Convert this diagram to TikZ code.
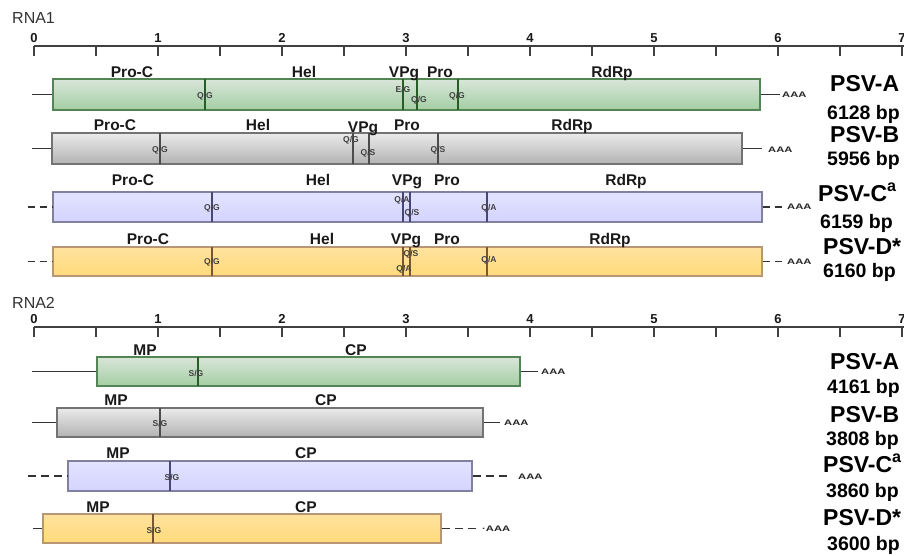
\documentclass[tikz,border=0pt]{standalone}
\usepackage{fontspec}
\setmainfont{Liberation Sans}
\begin{document}
\begin{tikzpicture}[x=1pt,y=-1pt,
  lab/.style={font=\bfseries\fontsize{15.5}{16}\selectfont, anchor=base, inner sep=0pt, text=black!90},
  num/.style={font=\bfseries\fontsize{13}{13}\selectfont, anchor=base, inner sep=0pt, text=black!90},
  rna/.style={font=\fontsize{16}{16}\selectfont, anchor=base west, inner sep=0pt, text=black!80},
  cs/.style={font=\bfseries\fontsize{8.5}{9}\selectfont, inner sep=0pt, text=black!75},
  aaa/.style={font=\bfseries\fontsize{8}{8}\selectfont, inner sep=0pt, anchor=west, text=black!85},
  vname/.style={font=\bfseries\fontsize{23}{24}\selectfont, anchor=base west, inner sep=0pt},
  vlen/.style={font=\bfseries\fontsize{19.5}{20}\selectfont, anchor=base west, inner sep=0pt},
  ruler/.style={line width=1.8pt, draw=black!75},
  lead/.style={line width=1.8pt, draw=black!80},
  dlead/.style={lead, dash pattern=on 7pt off 5pt},
  dlead2/.style={lead, dash pattern=on 8pt off 5pt},
  box/.style={draw, line width=1.3pt, inner sep=0pt},
  gbox/.style={box, draw=black!45!green!35!gray, top color=green!20!gray!25!white, bottom color=green!30!gray!55!white},
  ybox/.style={box, draw=black!55, top color=black!8, bottom color=black!30},
  lbox/.style={box, draw=blue!25!black!50, top color=blue!11!white, bottom color=blue!17!white},
  obox/.style={box, draw=orange!50!black!55, top color=yellow!40!orange!38!white, bottom color=yellow!45!orange!52!white},
  cutg/.style={line width=2.2pt, draw=green!25!black!85},
  cuty/.style={line width=2.2pt, draw=black!70},
  cutl/.style={line width=2.2pt, draw=blue!25!black!72},
  cuto/.style={line width=2.2pt, draw=orange!35!black!80},
]
\useasboundingbox (0,0) rectangle (904,555);
\clip (0,0) rectangle (904,555);
\fill[white] (0,0) rectangle (904,555);

% ---------------- RNA1 ruler
\node[rna] (rna1) at (12,23.3) {RNA1};
\draw[ruler] (34,46) -- (906,46);
\foreach \i in {0,...,14} \draw[ruler] ({34+62*\i},46) -- ++(0,10);
\foreach \i in {0,...,7} \node[num] (na\i) at ({34+124*\i},42.7) {\i};

% ---------------- RNA1 PSV-A
\node[gbox, minimum width=707pt, minimum height=31pt] (b1a) at (406.5,94.5) {};
\foreach \x in {205,403,417,458} \draw[cutg] (\x,79) -- (\x,110);
\coordinate (l1a) at (32,94.5); \coordinate (t1a) at (780,94.5);
\draw[lead] (l1a) -- (b1a.west);
\draw[lead] (b1a.east) -- (t1a);
\node[aaa] (p1a) at (782,94.5) {\scalebox{1.4}[1]{AAA}};
\node[lab] (a1) at (132,77) {Pro-C};
\node[lab] (a2) at (304,77) {Hel};
\node[lab] (a3) at (404,77) {VPg};
\node[lab] (a4) at (440,77) {Pro};
\node[lab] (a5) at (612,77) {RdRp};
\node[cs] (c1) at (205,96) {Q/G};
\node[cs] (c2) at (403,90) {E/G};
\node[cs] (c3) at (419,100) {Q/G};
\node[cs] (c4) at (457,96) {Q/G};

% ---------------- RNA1 PSV-B
\node[ybox, minimum width=690pt, minimum height=31pt] (b1b) at (397,148.5) {};
\foreach \x in {160,353,369,438} \draw[cuty] (\x,133) -- (\x,164);
\coordinate (l1b) at (32,148.5); \coordinate (t1b) at (762,148.5);
\draw[lead] (l1b) -- (b1b.west);
\draw[lead] (b1b.east) -- (t1b);
\node[aaa] (p1b) at (768,150) {\scalebox{1.4}[1]{AAA}};
\node[lab] (b1) at (115,130) {Pro-C};
\node[lab] (b2) at (258,130) {Hel};
\node[lab] (b3) at (363,132) {VPg};
\node[lab] (b4) at (407,130) {Pro};
\node[lab] (b5) at (572,130) {RdRp};
\node[cs] (d1) at (160,150) {Q/G};
\node[cs] (d2) at (351,140) {Q/G};
\node[cs] (d3) at (368,153) {Q/S};
\node[cs] (d4) at (438,150) {Q/S};

% ---------------- RNA1 PSV-C
\node[lbox, minimum width=709pt, minimum height=30pt] (b1c) at (407.5,207) {};
\foreach \x in {212,403,410,487} \draw[cutl] (\x,192) -- (\x,222);
\coordinate (l1c) at (28,207); \coordinate (t1c) at (783,207);
\draw[dlead] (l1c) -- (b1c.west);
\draw[dlead] (b1c.east) -- (t1c);
\node[aaa] (p1c) at (787,207) {\scalebox{1.4}[1]{AAA}};
\node[lab] (e1) at (133,185) {Pro-C};
\node[lab] (e2) at (318,185) {Hel};
\node[lab] (e3) at (407,185) {VPg};
\node[lab] (e4) at (447,185) {Pro};
\node[lab] (e5) at (626,185) {RdRp};
\node[cs] (f1) at (212,208) {Q/G};
\node[cs] (f2) at (402,200) {Q/A};
\node[cs] (f3) at (412,213) {Q/S};
\node[cs] (f4) at (489,208) {Q/A};

% ---------------- RNA1 PSV-D
\node[obox, minimum width=709pt, minimum height=29pt] (b1d) at (407.5,261.5) {};
\foreach \x in {212,403,410,487} \draw[cuto] (\x,247) -- (\x,276);
\coordinate (l1d) at (28,261.5); \coordinate (t1d) at (783,261.5);
\draw[dlead] (l1d) -- (b1d.west);
\draw[dlead] (b1d.east) -- (t1d);
\node[aaa] (p1d) at (787,261.5) {\scalebox{1.4}[1]{AAA}};
\node[lab] (g1) at (148,244) {Pro-C};
\node[lab] (g2) at (322,244) {Hel};
\node[lab] (g3) at (406,244) {VPg};
\node[lab] (g4) at (447,244) {Pro};
\node[lab] (g5) at (610,244) {RdRp};
\node[cs] (h1) at (212,262) {Q/G};
\node[cs] (h2) at (411,254) {Q/S};
\node[cs] (h3) at (404,269) {Q/A};
\node[cs] (h4) at (489,260) {Q/A};

% ---------------- RNA1 names
\node[vname] (n1a) at (830,91) {PSV-A};
\node[vlen]  (s1a) at (827,119) {6128 bp};
\node[vname] (n1b) at (830,142) {PSV-B};
\node[vlen]  (s1b) at (827,165) {5956 bp};
\node[vname] (n1c) at (818,201) {PSV-C\textsuperscript{a}};
\node[vlen]  (s1c) at (820,228) {6159 bp};
\node[vname] (n1d) at (823,254) {PSV-D*};
\node[vlen]  (s1d) at (823,277) {6160 bp};

% ---------------- RNA2 ruler
\node[rna] (rna2) at (12,308) {RNA2};
\draw[ruler] (34,327) -- (906,327);
\foreach \i in {0,...,14} \draw[ruler] ({34+62*\i},327) -- ++(0,10);
\foreach \i in {0,...,7} \node[num] (nb\i) at ({34+124*\i},323.3) {\i};

% ---------------- RNA2 PSV-A
\node[gbox, minimum width=423pt, minimum height=29pt] (b2a) at (308.5,371.5) {};
\draw[cutg] (198,357) -- (198,386);
\coordinate (l2a) at (32,371.5); \coordinate (t2a) at (538,371.5);
\draw[lead] (l2a) -- (b2a.west);
\draw[lead] (b2a.east) -- (t2a);
\node[aaa] (p2a) at (541,371.5) {\scalebox{1.4}[1]{AAA}};
\node[lab] (m1) at (145,355) {MP};
\node[lab] (m2) at (356,355) {CP};
\node[cs] (k1) at (196,373) {S/G};

% ---------------- RNA2 PSV-B
\node[ybox, minimum width=426pt, minimum height=29pt] (b2b) at (270,422.5) {};
\draw[cuty] (160,408) -- (160,437);
\coordinate (l2b) at (32,422.5); \coordinate (t2b) at (500,422.5);
\draw[lead] (l2b) -- (b2b.west);
\draw[lead] (b2b.east) -- (t2b);
\node[aaa] (p2b) at (504,422.5) {\scalebox{1.4}[1]{AAA}};
\node[lab] (m3) at (116,405) {MP};
\node[lab] (m4) at (326,405) {CP};
\node[cs] (k2) at (160,423) {S/G};

% ---------------- RNA2 PSV-C
\node[lbox, minimum width=404pt, minimum height=30pt] (b2c) at (270,476) {};
\draw[cutl] (170,461) -- (170,491);
\coordinate (l2c) at (28,476); \coordinate (t2c) at (510,476);
\draw[dlead2] (l2c) -- (b2c.west);
\draw[dlead2] (b2c.east) -- (t2c);
\node[aaa] (p2c) at (518,477) {\scalebox{1.4}[1]{AAA}};
\node[lab] (m5) at (118,458) {MP};
\node[lab] (m6) at (306,458) {CP};
\node[cs] (k3) at (172,477) {S/G};

% ---------------- RNA2 PSV-D
\node[obox, minimum width=398pt, minimum height=29pt] (b2d) at (242,528.5) {};
\draw[cuto] (153,514) -- (153,543);
\coordinate (l2d) at (33,528.5); \coordinate (t2d) at (478,528.5);
\draw[lead] (l2d) -- (b2d.west);
\draw[dlead2] (b2d.east) -- (t2d);
\node[aaa] (p2d) at (482,528.5) {\scalebox{1.4}[1]{·AAA}};
\node[lab] (m7) at (98,512) {MP};
\node[lab] (m8) at (306,512) {CP};
\node[cs] (k4) at (154,530) {S/G};

% ---------------- RNA2 names
\node[vname] (n2a) at (830,369) {PSV-A};
\node[vlen]  (s2a) at (827,393) {4161 bp};
\node[vname] (n2b) at (830,422) {PSV-B};
\node[vlen]  (s2b) at (826,445) {3808 bp};
\node[vname] (n2c) at (823,472) {PSV-C\textsuperscript{a}};
\node[vlen]  (s2c) at (826,497) {3860 bp};
\node[vname] (n2d) at (823,525) {PSV-D*};
\node[vlen]  (s2d) at (827,550) {3600 bp};
\end{tikzpicture}
\end{document}
